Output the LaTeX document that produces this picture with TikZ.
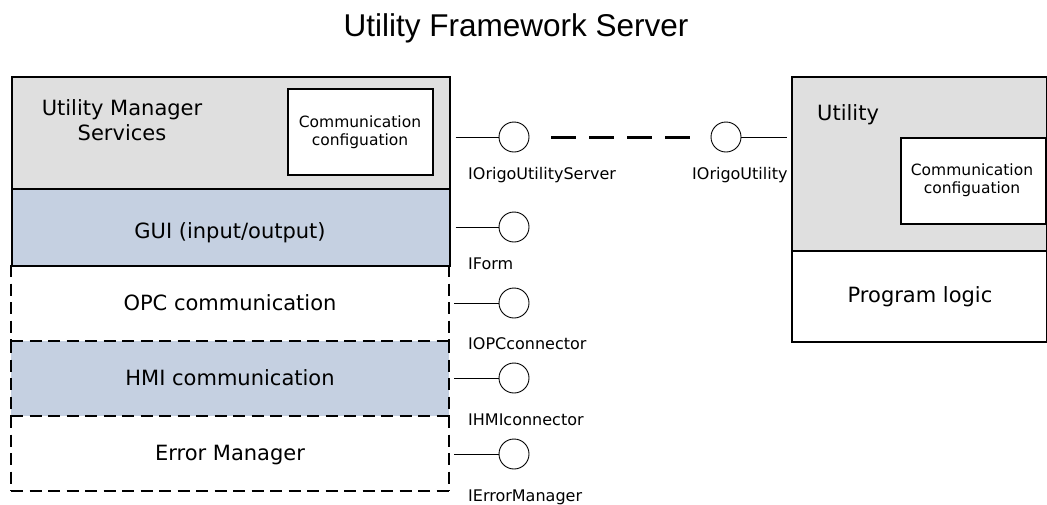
\documentclass[tikz,border=0pt]{standalone}
\usepackage{fontspec}
\setmainfont{DejaVu Sans}
\newfontfamily\titlefont{Liberation Sans}
\definecolor{umsgray}{HTML}{DFDFDF}
\definecolor{guiblue}{HTML}{C5D0E1}
\tikzset{
  block/.style={rectangle, draw=black, line width=1.6pt, inner sep=0pt, anchor=north west},
  fillblock/.style={rectangle, draw=none, inner sep=0pt, anchor=north west},
  dashedge/.style={line width=2pt, dash pattern=on 12pt off 6.5pt},
  lolli/.style={circle, draw=black, line width=0.9pt, minimum size=30pt, inner sep=0pt, fill=white},
  stub/.style={line width=0.9pt},
  link/.style={line width=3pt, dash pattern=on 25pt off 13pt},
  maintext/.style={font=\fontsize{21}{25}\selectfont, inner sep=0pt, anchor=base},
  cfgtext/.style={font=\fontsize{15.5}{18}\selectfont, inner sep=0pt, anchor=base},
  iface/.style={font=\fontsize{16}{19}\selectfont, inner sep=0pt, anchor=base west},
}
\begin{document}
\begin{tikzpicture}[x=1pt,y=-1pt]
\fill[white] (0,0) rectangle (1047,504);
\useasboundingbox (0,0) rectangle (1047,504);

% title
\node[font=\titlefont\fontsize{31.5}{36}\selectfont, inner sep=0pt, anchor=base] (title) at (516,36) {Utility Framework Server};

% optional layers of the server stack (fills first, dashed borders afterwards)
\node[fillblock, fill=white,   minimum width=438pt, minimum height=76pt] (opc) at (11,265) {};
\node[fillblock, fill=guiblue, minimum width=438pt, minimum height=75pt] (hmi) at (11,341) {};
\node[fillblock, fill=white,   minimum width=438pt, minimum height=75pt] (err) at (11,416) {};
\draw[dashedge] (opc.north west) -- (opc.south west);
\draw[dashedge] (opc.north east) -- (opc.south east);
\draw[dashedge] (opc.south west) -- (opc.south east);
\draw[dashedge] (hmi.north west) -- (hmi.south west);
\draw[dashedge] (hmi.north east) -- (hmi.south east);
\draw[dashedge] (hmi.south west) -- (hmi.south east);
\draw[dashedge] (err.north west) -- (err.south west);
\draw[dashedge] (err.north east) -- (err.south east);
\draw[dashedge] (err.south west) -- (err.south east);

% fixed layers of the server stack
\node[block, fill=umsgray, minimum width=438pt, minimum height=112pt] (ums) at (11,76) {};
\node[block, fill=guiblue, minimum width=438pt, minimum height=77pt] (gui) at (11,188) {};
\node[block, fill=white, minimum width=145pt, minimum height=86pt] (umscfg) at (287,88) {};

% utility component
\node[block, fill=umsgray, minimum width=254.5pt, minimum height=174pt] (util) at (791,76) {};
\node[block, fill=white, minimum width=254.5pt, minimum height=91pt] (prog) at (791,250) {};
\node[block, fill=white, minimum width=145pt, minimum height=86pt] (utilcfg) at (900,137) {};

% texts
\node[maintext] (umsA) at (122,115) {Utility Manager};
\node[maintext] (umsB) at (122,140) {Services};
\node[cfgtext] (umscfgA) at (360,127) {Communication};
\node[cfgtext] (umscfgB) at (360,145) {configuation};
\node[maintext] (guit) at (230,238) {GUI (input/output)};
\node[maintext] (opct) at (230,310) {OPC communication};
\node[maintext] (hmit) at (230,385) {HMI communication};
\node[maintext] (errt) at (230,460) {Error Manager};
\node[maintext, anchor=base west] (utilt) at (817,120) {Utility};
\node[cfgtext] (utilcfgA) at (972,175) {Communication};
\node[cfgtext] (utilcfgB) at (972,193) {configuation};
\node[maintext] (progt) at (920,302) {Program logic};

% provided interfaces
\node[lolli] (pSrv) at (514,137) {};
\node[lolli] (pForm) at (514,227) {};
\node[lolli] (pOpc) at (514,303) {};
\node[lolli] (pHmi) at (514,378) {};
\node[lolli] (pErr) at (514,454) {};
\node[lolli] (pUtil) at (726,137) {};

\draw[stub, shorten <=5pt] (ums.east |- pSrv) -- (pSrv);
\draw[stub, shorten <=5pt] (gui.east |- pForm) -- (pForm);
\draw[stub, shorten <=5pt] (opc.east |- pOpc) -- (pOpc);
\draw[stub, shorten <=5pt] (hmi.east |- pHmi) -- (pHmi);
\draw[stub, shorten <=5pt] (err.east |- pErr) -- (pErr);
\draw[stub, shorten >=4pt] (pUtil) -- (util.west |- pUtil);
\draw[link, shorten <=22pt, shorten >=21pt] (pSrv) -- (pUtil);

\node[iface] (lSrv) at (468,179) {IOrigoUtilityServer};
\node[iface] (lForm) at (468,269) {IForm};
\node[iface] (lOpc) at (468,349) {IOPCconnector};
\node[iface] (lHmi) at (468,425) {IHMIconnector};
\node[iface] (lErr) at (468,501) {IErrorManager};
\node[iface] (lUtil) at (692,179) {IOrigoUtility};
\end{tikzpicture}
\end{document}
